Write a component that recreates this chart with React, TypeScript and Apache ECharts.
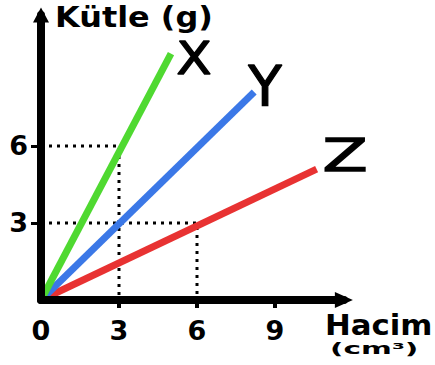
import React, { useEffect, useRef } from "react";
import * as echarts from "echarts";

const xTicks = [0, 3, 6, 9];
const yTicks = [3, 6];
const seriesX = [[0, 0], [5.0, 9.6]];
const seriesY = [[0, 0], [8.2, 8.1]];
const seriesZ = [[0, 0], [10.6, 5.1]];
const guide6 = [[0, 6], [3, 6], [3, 0]];
const guide3 = [[0, 3], [6, 3], [6, 0]];
const yTitle = "Kütle (g)";
const xTitle = "Hacim";
const xUnit = "(cm³)";

const FONT = "DejaVu Sans";

export default function App() {
  const ref = useRef<HTMLDivElement>(null);
  useEffect(() => {
    if (!ref.current) return;
    const chart = echarts.init(ref.current, undefined, { renderer: "svg" });
    const guideStyle = { color: "#000", width: 3, type: [3, 5] as any };
    const letter = (text: string, x: number, y: number, size: number, sx: number) => ({
      type: "text", x, y, scaleX: sx,
      style: {
        text, fontFamily: FONT, fontSize: size, fill: "#000", stroke: "#000", lineWidth: 1.3,
        textAlign: "center", textVerticalAlign: "middle",
      },
    });
    chart.setOption({
      animation: false,
      backgroundColor: "#fff",
      grid: { left: 41, top: 15.06, width: 302.9, height: 284.94 },
      xAxis: {
        type: "value",
        min: 0,
        max: 11.65,
        z: 5,
        splitLine: { show: false },
        axisLine: {
          show: true,
          onZero: false,
          symbol: ["none", "triangle"],
          symbolSize: [16, 18],
          lineStyle: { color: "#000", width: 8 },
        },
        axisTick: { show: true, customValues: [3, 6, 9], length: 8, lineStyle: { color: "#000", width: 4 } },
        axisLabel: {
          customValues: xTicks,
          margin: 17,
          color: "#000",
          fontFamily: FONT,
          fontWeight: "bold",
          fontSize: 27,
        },
      },
      yAxis: {
        type: "value",
        min: 0,
        max: 11.1,
        z: 5,
        splitLine: { show: false },
        axisLine: {
          show: true,
          onZero: false,
          symbol: ["none", "triangle"],
          symbolSize: [16, 15],
          lineStyle: { color: "#000", width: 8 },
        },
        axisTick: { show: true, customValues: yTicks, length: 10, lineStyle: { color: "#000", width: 3 } },
        axisLabel: {
          customValues: yTicks,
          margin: 13,
          color: "#000",
          fontFamily: FONT,
          fontWeight: "bold",
          fontSize: 27,
        },
      },
      series: [
        { type: "line", data: guide6, symbol: "none", lineStyle: guideStyle, z: 1 },
        { type: "line", data: guide3, symbol: "none", lineStyle: guideStyle, z: 1 },
        { type: "line", data: seriesZ, symbol: "none", lineStyle: { color: "#e83232", width: 7, cap: "butt" }, z: 2 },
        { type: "line", data: seriesY, symbol: "none", lineStyle: { color: "#3b78e7", width: 7, cap: "butt" }, z: 2 },
        { type: "line", data: seriesX, symbol: "none", lineStyle: { color: "#4fd931", width: 7, cap: "butt" }, z: 2 },
      ],
      graphic: [
        {
          type: "text", x: 55, y: 17, scaleX: 1.14,
          style: { text: yTitle, fontFamily: FONT, fontWeight: "bold", fontSize: 28, fill: "#000", textAlign: "left", textVerticalAlign: "middle" },
        },
        {
          type: "text", x: 325, y: 325, scaleX: 1.1,
          style: { text: xTitle, fontFamily: FONT, fontWeight: "bold", fontSize: 28, fill: "#000", textAlign: "left", textVerticalAlign: "middle" },
        },
        {
          type: "text", x: 330, y: 349, scaleX: 1.85,
          style: { text: xUnit, fontFamily: FONT, fontWeight: "bold", fontSize: 16, fill: "#000", textAlign: "left", textVerticalAlign: "middle" },
        },
        letter("X", 194, 58, 45, 1.15),
        letter("Y", 265, 86, 55, 1.0),
        letter("Z", 345, 156, 44, 1.5),
      ],
    });
    return () => chart.dispose();
  }, []);
  return (
    <div
      ref={ref}
      style={{ position: "fixed", left: 0, top: 0, width: 435, height: 365, background: "#fff" }}
    />
  );
}
